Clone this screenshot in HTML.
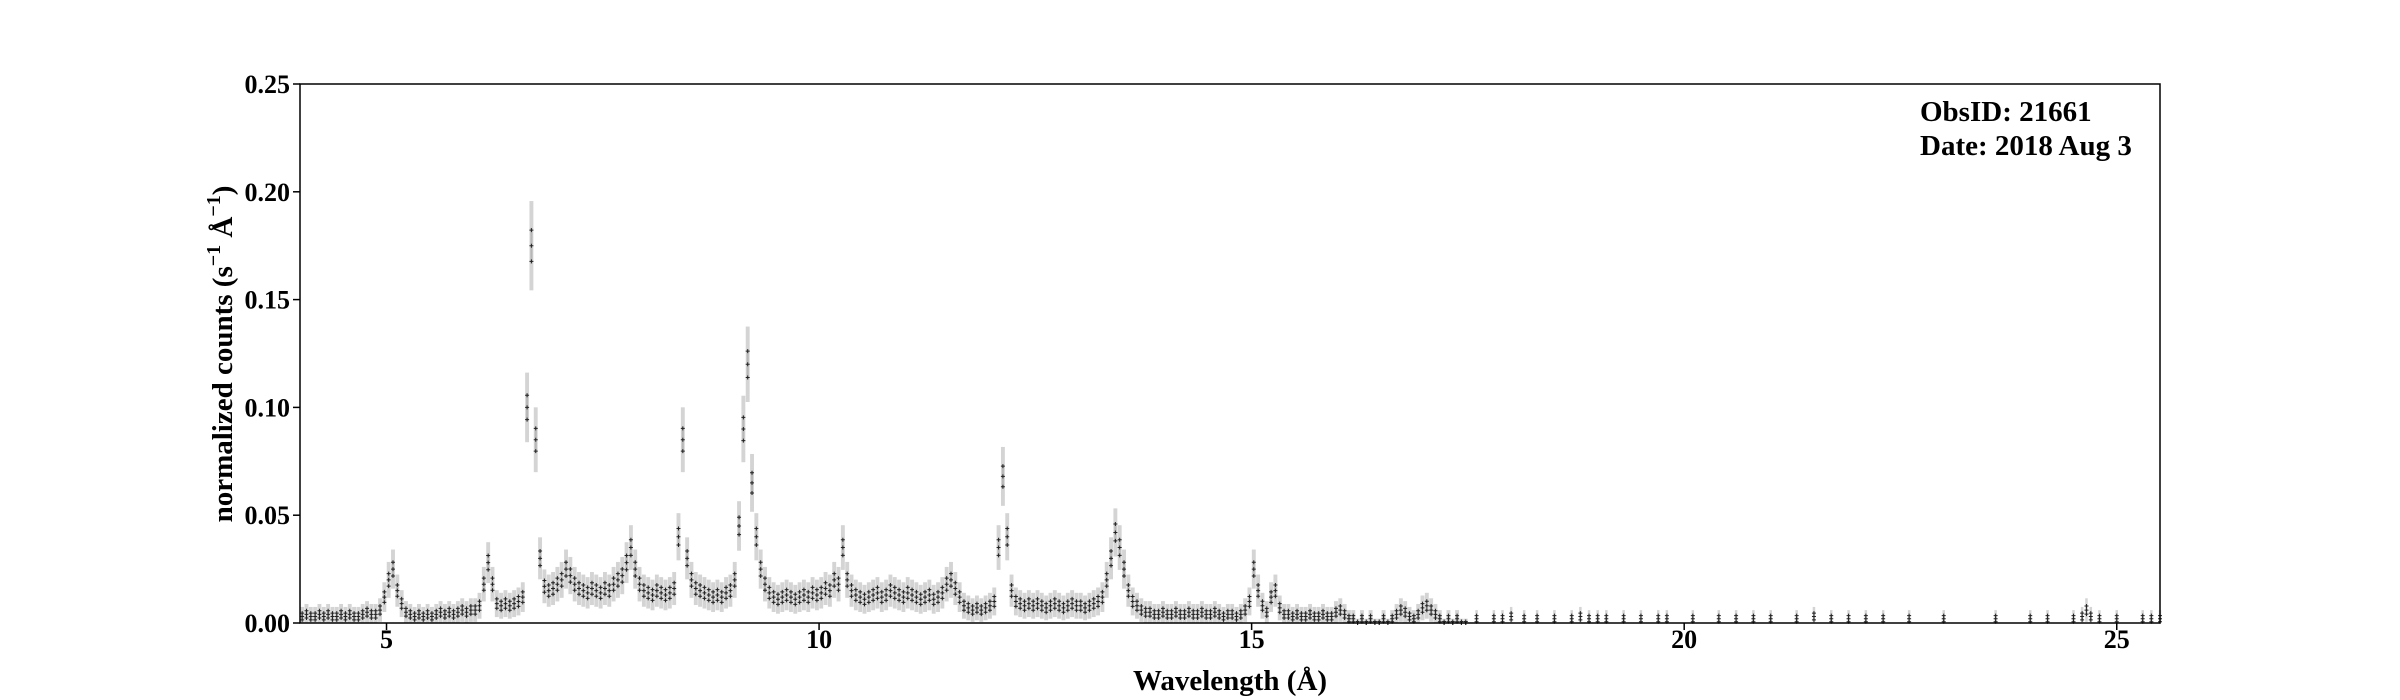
<!DOCTYPE html>
<html><head><meta charset="utf-8"><style>
html,body{margin:0;padding:0;background:#fff;}
svg{display:block;font-family:"Liberation Serif",serif;font-weight:bold;}
</style></head><body>
<svg id="chart" width="2400" height="700" viewBox="0 0 2400 700" xmlns="http://www.w3.org/2000/svg">
<g id="marks"></g>
<rect x="300" y="84" width="1860" height="539" fill="none" stroke="#000" stroke-width="1.5"/>
<g id="axes"></g>
<text x="1230" y="690" font-size="29" text-anchor="middle">Wavelength (Å)</text>
<text transform="translate(232,354) rotate(-90)" font-size="29" text-anchor="middle">normalized counts (s<tspan dy="-12" font-size="20">−1</tspan><tspan dy="12"> Å</tspan><tspan dy="-12" font-size="20">−1</tspan><tspan dy="12">)</tspan></text>
<text x="1920" y="121" font-size="29">ObsID: 21661</text>
<text x="1920" y="155" font-size="29">Date: 2018 Aug 3</text>
</svg>
<script>
const binStart = 4.0;
const binWidth = 0.05;
const counts = [
.003,.004,.003,.003,.004,.003,.004,.003,.003,.004,.003,.004,.003,.003,.004,.005,.004,.004,.006,.012,
.02,.025,.015,.009,.005,.004,.003,.004,.003,.004,.003,.004,.005,.004,.005,.004,.005,.006,.005,.006,
.006,.008,.018,.028,.018,.009,.008,.009,.008,.009,.01,.012,.1,.175,.085,.03,.017,.015,.016,.018,
.02,.025,.022,.018,.016,.015,.014,.016,.015,.014,.016,.015,.018,.02,.022,.028,.035,.025,.018,.015,
.014,.013,.015,.014,.013,.014,.016,.04,.085,.03,.02,.016,.015,.014,.013,.012,.013,.012,.014,.015,
.02,.045,.09,.12,.065,.04,.025,.018,.014,.012,.011,.012,.013,.012,.011,.012,.013,.012,.014,.013,
.014,.016,.015,.02,.018,.035,.02,.015,.013,.012,.011,.012,.013,.014,.012,.013,.015,.014,.013,.012,
.014,.013,.012,.011,.012,.013,.011,.012,.014,.018,.02,.016,.012,.008,.007,.006,.007,.006,.007,.008,
.01,.035,.068,.04,.015,.01,.009,.008,.009,.008,.009,.008,.007,.008,.009,.008,.007,.008,.009,.008,
.008,.007,.008,.009,.01,.012,.02,.03,.042,.035,.025,.015,.01,.008,.006,.005,.005,.004,.004,.005,
.004,.004,.005,.004,.004,.005,.004,.004,.005,.004,.004,.005,.004,.003,.004,.004,.003,.004,.006,.01,
.025,.015,.008,.005,.012,.015,.007,.004,.004,.003,.004,.003,.003,.004,.003,.003,.004,.003,.003,.005,
.006,.004,.002,.002,0,.002,0,.002,0,0,.002,0,.002,.004,.006,.005,.003,.002,.004,.007,
.008,.006,.004,.002,0,.002,0,.002,0,0
];
const sparseWave = [17.6,17.8,17.9,18.0,18.15,18.3,18.5,18.7,18.8,18.9,19.0,19.1,19.3,19.5,19.7,19.8,20.1,20.4,20.6,20.8,21.0,21.3,21.5,21.7,21.9,22.1,22.3,22.6,23.0,23.6,24.0,24.2,24.5,24.6,24.65,24.7,24.8,25.0,25.3,25.4,25.5];
const sparseCounts = [.002,.002,.002,.003,.002,.002,.002,.002,.003,.002,.002,.002,.002,.002,.002,.002,.002,.002,.002,.002,.002,.002,.003,.002,.002,.002,.002,.002,.002,.002,.002,.002,.002,.003,.006,.003,.002,.002,.002,.002,.002];
const xTicks = [5,10,15,20,25];
const yTicks = [0,0.05,0.10,0.15,0.20,0.25];
const yTickLabels = ["0.00","0.05","0.10","0.15","0.20","0.25"];

const X0=300,X1=2160,Y0=623,Y1=84,XMIN=4.0,XMAX=25.5,YMIN=0,YMAX=0.25;
function xs(v){return X0+(v-XMIN)/(XMAX-XMIN)*(X1-X0);}
function ys(v){return Y0-(v-YMIN)/(YMAX-YMIN)*(Y0-Y1);}
const NS="http://www.w3.org/2000/svg";
const marks=document.getElementById('marks');
const axes=document.getElementById('axes');
function mk(tag,attrs,parent){const e=document.createElementNS(NS,tag);for(const k in attrs)e.setAttribute(k,attrs[k]);parent.appendChild(e);return e;}

function drawPoint(w,v,wid){
  const err=Math.sqrt(v*0.002)+0.002;
  const lo=Math.max(0,v-err), hi=Math.min(YMAX,v+err);
  const cx=xs(w);
  const bar=mk('rect',{x:cx-wid/2,y:ys(hi),width:wid,height:ys(lo)-ys(hi),fill:'#cccccc','fill-opacity':'0.85'},marks);
  
  
  const inner=mk('rect',{x:cx-wid/4,y:ys(v+err*0.4),width:wid/2,height:Math.max(1,ys(Math.max(0,v-err*0.4))-ys(v+err*0.4)),fill:'#999','fill-opacity':'0.5'},marks);
  
  
  [0,0.35,-0.35].forEach(f=>{
    const yv=Math.max(0,v+f*err);
    const m=mk('path',{d:`M${cx-2},${ys(yv)}h4M${cx},${ys(yv)-2}v4`,stroke:'#222','stroke-width':'1'},marks);
    
    
  });
}
const bw=(xs(binStart+binWidth)-xs(binStart))*0.9;
counts.forEach((v,i)=>{const w=binStart+(i+0.5)*binWidth; if(w<XMAX) drawPoint(w,v,bw);});
sparseWave.forEach((w,i)=>drawPoint(w,sparseCounts[i],2.5));

xTicks.forEach(t=>{
  const x=xs(t);
  const l=mk('line',{x1:x,x2:x,y1:Y0,y2:Y0+7,stroke:'#000','stroke-width':'1.5'},axes);
  
  
  const tx=mk('text',{x:x,y:648,'font-size':'26','text-anchor':'middle'},axes);
  tx.textContent=t;
  
  
});
yTicks.forEach((t,i)=>{
  const y=ys(t);
  const l=mk('line',{x1:X0-7,x2:X0,y1:y,y2:y,stroke:'#000','stroke-width':'1.5'},axes);
  
  
  const tx=mk('text',{x:X0-10,y:y+9,'font-size':'26','text-anchor':'end'},axes);
  tx.textContent=yTickLabels[i];
  
  
});
</script>
</body></html>
